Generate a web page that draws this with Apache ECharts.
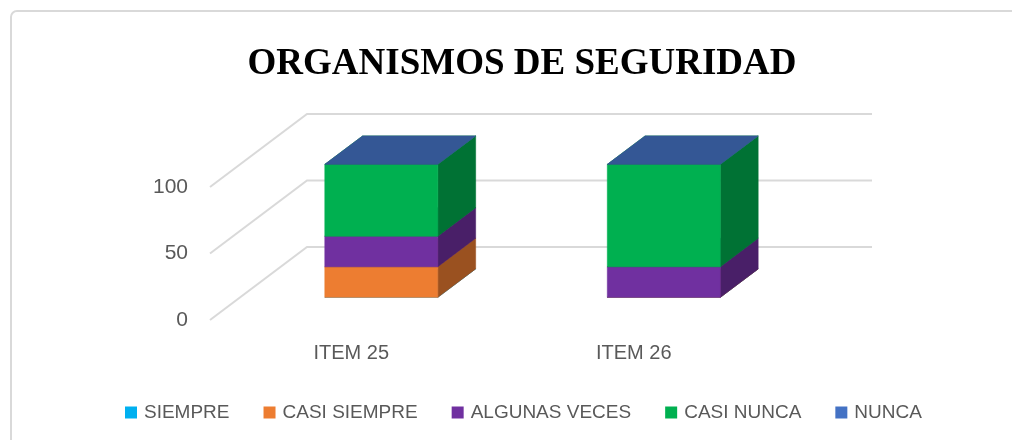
<!DOCTYPE html>
<html>
<head>
<meta charset="utf-8">
<script src="https://cdn.jsdelivr.net/npm/echarts@6/dist/echarts.min.js"></script>
<style>
  html, body { margin: 0; padding: 0; background: #fff; }
  #chart { width: 1012px; height: 440px; }
</style>
</head>
<body>
<div id="chart"></div>
<script>
const categories = ['ITEM 25', 'ITEM 26']
const seriesNames = ['SIEMPRE', 'CASI SIEMPRE', 'ALGUNAS VECES', 'CASI NUNCA', 'NUNCA']
const siempre = [0, 0]
const casiSiempre = [23, 0]
const algunasVeces = [23, 23]
const casiNunca = [54, 77]
const nunca = [0, 0]
const yTicks = [0, 50, 100]

const COLORS = ['#00B0F0', '#ED7D31', '#7030A0', '#00B050', '#4472C4']
const values = [siempre, casiSiempre, algunasVeces, casiNunca, nunca]

// fake 3D: back wall offset and where the bars sit in depth
const DX = 97, DY = -73
const F0 = 0.31, FD = 0.39

function shade(hex, k) {
  const n = parseInt(hex.slice(1), 16)
  const r = Math.round(((n >> 16) & 255) * k)
  const g = Math.round(((n >> 8) & 255) * k)
  const b = Math.round((n & 255) * k)
  return `rgb(${r},${g},${b})`
}

// stacked bases, bottom to top
const stacked = values.map(() => [])
categories.forEach((_, ci) => {
  let base = 0
  values.forEach((arr, si) => {
    stacked[si].push([ci, base, base + arr[ci]])
    base += arr[ci]
  })
})

function renderWall(params, api) {
  const cs = params.coordSys
  const y = api.coord([0, api.value(0)])[1]
  const x0 = cs.x, x1 = cs.x + cs.width
  return {
    type: 'polyline',
    shape: { points: [[x0, y], [x0 + DX, y + DY], [x1 + DX, y + DY]] },
    style: { stroke: '#d9d9d9', lineWidth: 2, fill: null },
    silent: true,
  }
}

function face(type, shape, fill) {
  return { type, shape, style: { fill, stroke: fill, lineWidth: 0.6 } }
}

function makeRender(color) {
  const side = shade(color, 0.65)
  const top = shade(color, 0.76)
  return function (params, api) {
    const c = api.value(0)
    const pb = api.coord([c, api.value(1)])
    const pt = api.coord([c, api.value(2)])
    const bw = api.size([1, 0])[0] * 0.4
    const ox = DX * F0, oy = DY * F0
    const dx = DX * FD, dy = DY * FD
    const x0 = pb[0] - bw / 2 + ox, x1 = x0 + bw
    const yb = pb[1] + oy, yt = pt[1] + oy
    const children = []
    if (yb - yt > 0.5) {
      children.push(face('polygon', { points: [[x1, yb], [x1 + dx, yb + dy], [x1 + dx, yt + dy], [x1, yt]] }, side))
      children.push(face('rect', { x: x0, y: yt, width: bw, height: yb - yt }, color))
    }
    children.push(face('polygon', { points: [[x0, yt], [x1, yt], [x1 + dx, yt + dy], [x0 + dx, yt + dy]] }, top))
    return { type: 'group', children }
  }
}

const chart = echarts.init(document.getElementById('chart'))
chart.setOption({
  backgroundColor: '#fff',
  animation: false,
  title: {
    text: 'ORGANISMOS DE SEGURIDAD',
    left: 517, top: 41, textAlign: 'center',
    textStyle: { fontFamily: 'Liberation Serif', fontWeight: 'bold', fontSize: 37, color: '#000' },
  },
  graphic: [{
    type: 'rect', silent: true, z: -1,
    shape: { x: 11, y: 11, width: 1040, height: 460, r: 6 },
    style: { fill: null, stroke: '#d9d9d9', lineWidth: 2 },
  }],
  legend: {
    data: seriesNames,
    left: 120, top: 398,
    icon: 'rect', itemWidth: 12, itemHeight: 12, itemGap: 34,
    textStyle: { fontFamily: 'Liberation Sans', fontSize: 19, color: '#595959', padding: [0, 0, 0, 2] },
  },
  grid: { left: 210, right: 237, top: 187, bottom: 120 },
  xAxis: {
    type: 'category', data: categories,
    axisLine: { show: false }, axisTick: { show: false },
    axisLabel: { margin: 23, fontFamily: 'Liberation Sans', fontSize: 20, color: '#595959' },
  },
  yAxis: {
    type: 'value', min: 0, max: 100, interval: 50,
    axisLine: { show: false }, axisTick: { show: false }, splitLine: { show: false },
    axisLabel: { margin: 22, padding: [10, 0, 0, 0], fontFamily: 'Liberation Sans', fontSize: 21, color: '#595959' },
  },
  series: [
    {
      type: 'custom', name: 'walls', z: 1, silent: true,
      data: yTicks.map(v => [v]),
      renderItem: renderWall,
    },
    ...seriesNames.map((name, si) => ({
      type: 'custom', name, z: 2,
      itemStyle: { color: COLORS[si] },
      encode: { x: 0, y: [1, 2] },
      data: stacked[si],
      renderItem: makeRender(COLORS[si]),
    })),
  ],
})
</script>
</body>
</html>
